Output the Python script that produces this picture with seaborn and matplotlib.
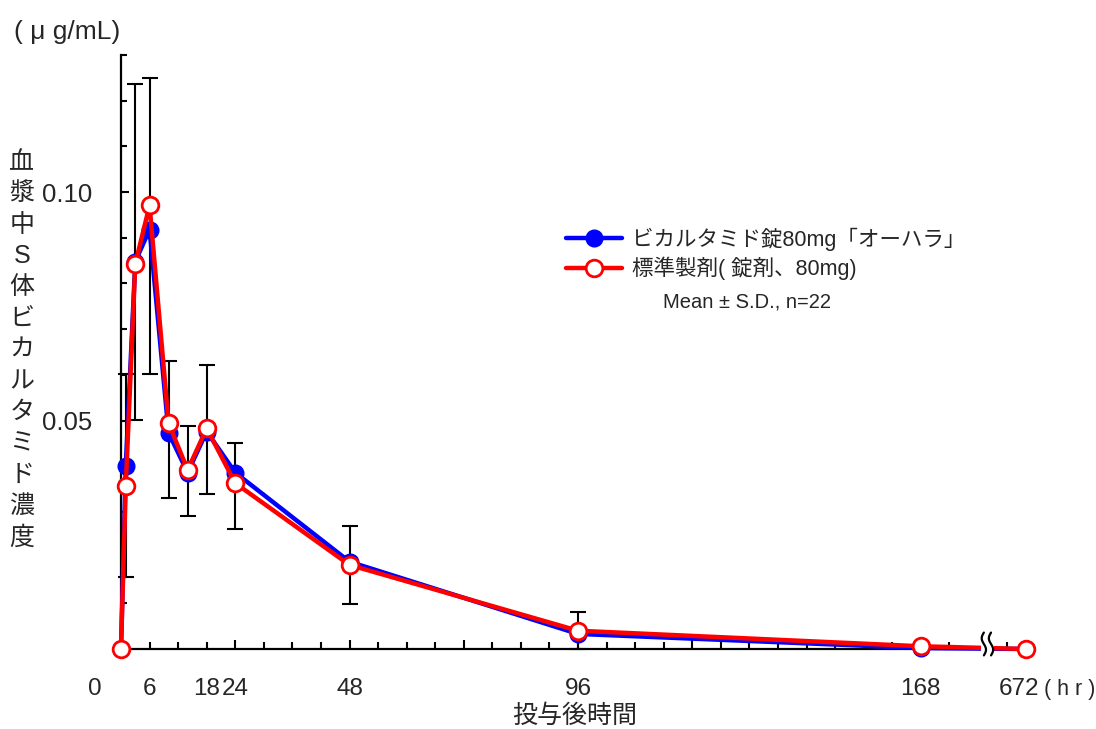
import numpy as np
import pandas as pd
import matplotlib
matplotlib.use("Agg")
import matplotlib.pyplot as plt
import seaborn as sns
from matplotlib.patches import Rectangle

# sampling times (hr) and mean plasma concentrations (ug/mL)
hours = [0, 1, 3, 6, 10, 14, 18, 24, 48, 96, 168, 672]
test_mean = [0.0, 0.0400, 0.0848, 0.0918, 0.0473, 0.0386, 0.0476, 0.0386, 0.0191, 0.0033, 0.0002, 0.0]
ref_mean = [0.0, 0.0356, 0.0843, 0.0971, 0.0494, 0.0392, 0.0483, 0.0363, 0.0184, 0.0040, 0.0006, 0.0]

# ends of the S.D. bars (nan = no bar)
bar_top = [np.nan, 0.0602, 0.1237, 0.1249, 0.0630, 0.0488, 0.0622, 0.0451, 0.0270, 0.0082, np.nan, np.nan]
bar_bottom = [np.nan, 0.0158, 0.0501, 0.0601, 0.0330, 0.0291, 0.0339, 0.0263, 0.0098, 0.0, np.nan, np.nan]

tick_label_hours = [0, 6, 18, 24, 48, 96, 168, 672]
test_label = "ビカルタミド錠80mg「オーハラ」"
ref_label = "標準製剤( 錠剤、80mg)"
y_title = "血漿中S体ビカルタミド濃度"

# broken x axis: everything after the break is pulled in next to 168 hr
X_END = 190.1
BREAK = 182.0


def to_axis(t):
    t = np.asarray(t, dtype=float)
    return np.where(t <= 180, t, t - 672 + X_END)


sns.set_style("ticks")
plt.rcParams['font.family'] = ['Liberation Sans', 'Noto Sans CJK JP']
plt.rcParams['axes.unicode_minus'] = False

df = pd.DataFrame({
    'x': np.concatenate([to_axis(hours), to_axis(hours)]),
    'conc': test_mean + ref_mean,
    'group': [test_label] * len(hours) + [ref_label] * len(hours),
})

fig = plt.figure(figsize=(10.96, 7.29), dpi=100)
ax = fig.add_axes([121 / 1096, 1 - 649 / 729, 905 / 1096, 594 / 729])

# S.D. bars
x_axis = to_axis(hours)
ref = np.array(ref_mean)
top = np.array(bar_top)
bot = np.array(bar_bottom)
has_bar = ~np.isnan(top)
ax.errorbar(x_axis[has_bar], ref[has_bar],
            yerr=[ref[has_bar] - bot[has_bar], top[has_bar] - ref[has_bar]],
            fmt='none', ecolor='black', elinewidth=1.5, capsize=6, capthick=1.5,
            zorder=2, clip_on=False)

sns.lineplot(data=df[df['group'] == test_label], x='x', y='conc', ax=ax,
             color='#0000ff', linewidth=3.2, marker='o', markersize=12,
             markerfacecolor='#0000ff', markeredgecolor='#0000ff', markeredgewidth=1,
             label=test_label, clip_on=False, zorder=3)
sns.lineplot(data=df[df['group'] == ref_label], x='x', y='conc', ax=ax,
             color='#ff0000', linewidth=3.2, marker='o', markersize=12,
             markerfacecolor='white', markeredgecolor='#ff0000', markeredgewidth=2,
             label=ref_label, clip_on=False, zorder=4)

ax.set_xlim(0, X_END)
ax.set_ylim(0, 0.13)
ax.spines[['top', 'right']].set_visible(False)
for side in ['left', 'bottom']:
    ax.spines[side].set_linewidth(1.6)
    ax.spines[side].set_color('black')

ax.set_xticks([24, 48, 72, 96, 120, 144, 168])
ax.set_xticklabels([])
minor_x = [h for h in range(6, 180, 6) if h % 24 != 0] + [float(to_axis(668))]
ax.set_xticks(minor_x, minor=True)
ax.set_yticks([0.05, 0.10])
ax.set_yticklabels(['0.05', '0.10'], fontsize=18.5)
ax.set_yticks(np.arange(0.01, 0.135, 0.01), minor=True)
ax.tick_params(axis='x', which='major', direction='in', length=6.8, width=1.5, color='black')
ax.tick_params(axis='x', which='minor', direction='in', length=5, width=1.5, color='black')
ax.tick_params(axis='y', which='major', direction='in', length=6, width=1.5, color='black', pad=21)
ax.tick_params(axis='y', which='minor', direction='in', length=4.3, width=1.5, color='black')
ax.set_xlabel('')
ax.set_ylabel('')

# x tick labels
for h in tick_label_hours:
    dx = -19 if h == 0 else (-5 if h == 672 else 0)
    ax.annotate(str(h), xy=(float(to_axis(h)), 0), xycoords=('data', 'axes fraction'),
                xytext=(dx, -29), textcoords='offset points',
                ha='center', va='center', fontsize=17.5, annotation_clip=False)
ax.annotate('( h r )', xy=(float(to_axis(672)), 0), xycoords=('data', 'axes fraction'),
            xytext=(13, -29), textcoords='offset points',
            ha='left', va='center', fontsize=15.5, annotation_clip=False)

# axis break mark
ax.add_patch(Rectangle((BREAK - 1.4, -0.0016), 2.8, 0.0032, facecolor='white',
                       edgecolor='none', zorder=6, clip_on=False))
wy = np.linspace(-0.0014, 0.0036, 60)
for cx in [BREAK - 0.75, BREAK + 0.75]:
    wx = cx + 0.45 * np.sin((wy - wy[0]) / (wy[-1] - wy[0]) * 2 * np.pi)
    ax.plot(wx, wy, color='black', linewidth=1.6, zorder=7, clip_on=False)

leg = ax.legend(loc='center left', bbox_to_anchor=(566 / 1096, 1 - 254 / 729),
                bbox_transform=fig.transFigure, frameon=False, fontsize=15.5,
                handlelength=2.6, handletextpad=0.45, labelspacing=0.28,
                borderpad=0, borderaxespad=0)
fig.text(747 / 1096, 1 - 302 / 729, 'Mean ± S.D., n=22', ha='center', va='center', fontsize=14.5)

# titles
fig.text(14 / 1096, 1 - 32 / 729, '( μ g/mL)', ha='left', va='center', fontsize=19)
fig.text(575 / 1096, 1 - 716 / 729, '投与後時間', ha='center', va='center', fontsize=18)
for i, ch in enumerate(y_title):
    fig.text(22 / 1096, 1 - (162 + i * 31.3) / 729, ch, ha='center', va='center', fontsize=18)

fig.savefig('out.png', dpi=100)
